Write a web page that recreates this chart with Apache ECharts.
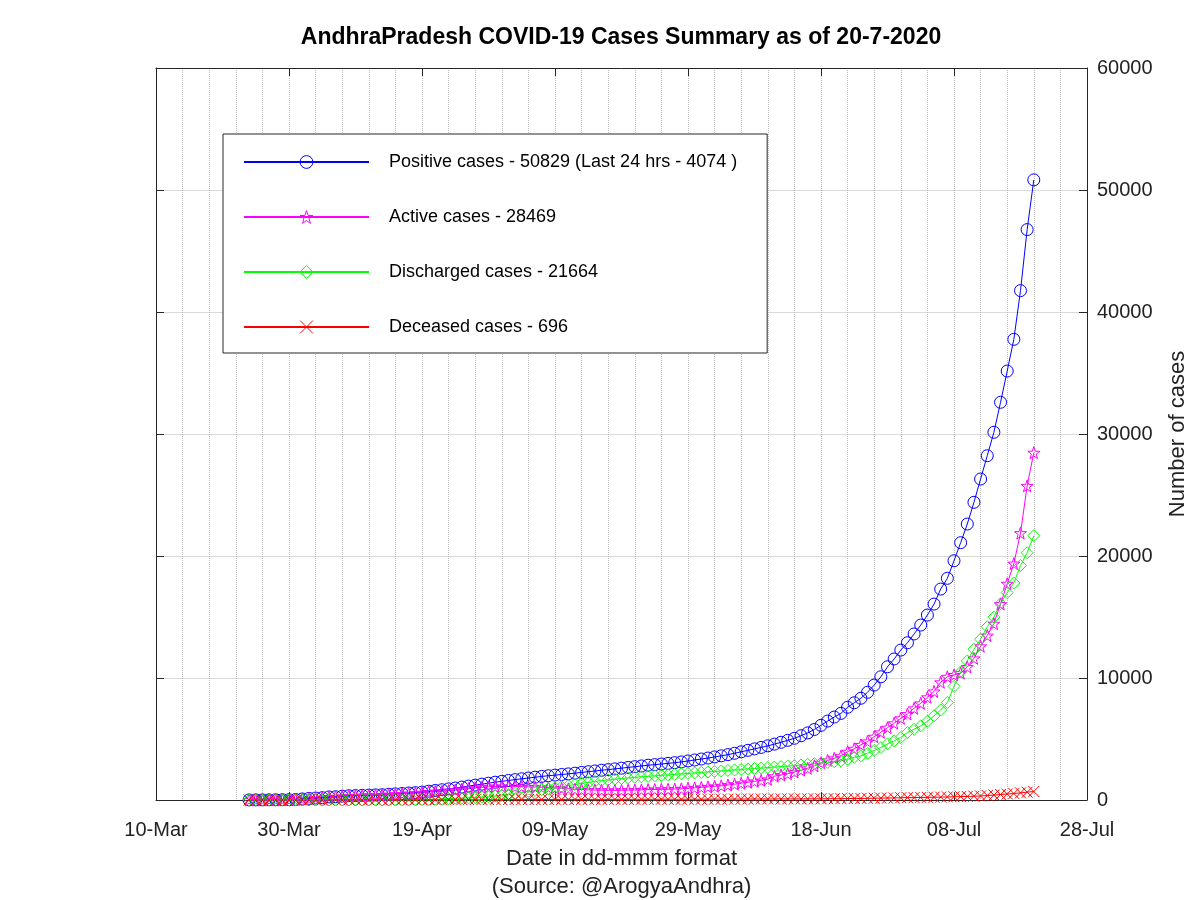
<!DOCTYPE html>
<html><head><meta charset="utf-8">
<script src="https://cdn.jsdelivr.net/npm/echarts@6/dist/echarts.min.js"></script>
<style>html,body{margin:0;padding:0;background:#fff}#c{width:1200px;height:900px}</style>
</head><body><div id="c"></div>
<script>
// ---- data (daily, 24-Mar-2020 .. 20-Jul-2020) ----
const axisStartDate = [2020, 2, 10];   // 10-Mar-2020 (axis origin)
const firstDataDate = [2020, 2, 24];   // 24-Mar-2020 (first observation)
const axisMaxDays = 140;               // 28-Jul
const tickStepDays = 20;

const positive = [
  8, 10, 11, 14, 19, 21, 23, 40,
  87, 132, 161, 190, 252, 266, 314, 348, 363, 381, 405, 420, 432, 473, 502, 534, 572, 603, 647, 722,
  780, 840, 910, 980, 1060, 1140, 1220, 1300, 1380, 1460,
  1530, 1600, 1670, 1740, 1800, 1870, 1930, 1990, 2040, 2090, 2140, 2200, 2260, 2320, 2380, 2440,
  2490, 2550, 2610, 2670, 2730, 2790, 2850, 2900, 2950, 3000, 3060, 3120, 3200, 3280, 3360,
  3440, 3530, 3620, 3720, 3830, 3950, 4070, 4190, 4310, 4440, 4580, 4730, 4890, 5060, 5270, 5500,
  5780, 6120, 6470, 6800, 7100, 7600, 7970, 8340, 8830, 9420, 10100, 10920, 11560, 12290,
  12890, 13610, 14340, 15160, 16060, 17290, 18170, 19610, 21090, 22620, 24400, 26310, 28220, 30140,
  32600, 35160, 37760, 41750, 46755, 50829
];
const active = [
  8, 10, 11, 13, 18, 20, 22, 39,
  86, 130, 159, 188, 248, 262, 304, 338, 348, 366, 389, 402, 414, 452, 475, 500, 536, 560, 595, 660,
  695, 726, 766, 812, 884, 938, 998, 1034, 1089, 1106,
  1097, 1097, 1094, 1094, 1074, 1062, 1039, 1019, 986, 955, 914, 884, 854, 832, 812, 801,
  790, 788, 797, 805, 814, 833, 852, 860, 870, 879, 898, 918, 958, 996, 1036,
  1076, 1122, 1169, 1227, 1295, 1373, 1450, 1530, 1608, 1696, 1950, 2050, 2150, 2300, 2450, 2600,
  2800, 3050, 3250, 3420, 3600, 3960, 4200, 4520, 4800, 5190, 5550, 5930, 6290, 6700,
  7050, 7516, 7926, 8418, 8900, 9650, 10100, 10250, 10400, 10900, 11610, 12600, 13480, 14450,
  16066, 17730, 19380, 21880, 25750, 28469
];
const discharged = [
  0, 0, 0, 1, 1, 1, 1, 1,
  1, 1, 1, 1, 1, 1, 6, 6, 9, 9, 10, 11, 11, 12, 16, 20, 22, 29, 37, 42,
  65, 92, 120, 141, 145, 171, 191, 235, 258, 321,
  400, 470, 540, 610, 690, 770, 850, 930, 1010, 1090, 1180, 1270, 1360, 1440, 1520, 1590,
  1650, 1710, 1760, 1810, 1860, 1900, 1940, 1980, 2020, 2060, 2100, 2140, 2180, 2220, 2260,
  2300, 2340, 2380, 2420, 2460, 2500, 2540, 2580, 2620, 2660, 2700, 2740, 2780, 2820, 2870, 2920,
  2980, 3030, 3080, 3140, 3200, 3340, 3500, 3620, 3830, 4060, 4300, 4600, 4850, 5120,
  5530, 5800, 6080, 6460, 6900, 7380, 7990, 9310, 10500, 11400, 12360, 13180, 14200, 14990,
  16090, 17000, 17790, 19220, 20270, 21664
];
const deceased = [
  0, 0, 0, 0, 0, 0, 0, 0,
  0, 1, 1, 1, 3, 3, 4, 4, 6, 6, 6, 7, 7, 9, 11, 14, 14, 14, 15, 20,
  20, 22, 24, 27, 31, 31, 31, 31, 33, 33,
  33, 33, 36, 36, 36, 38, 41, 41, 44, 45, 46, 46, 46, 48, 48, 49,
  50, 52, 53, 55, 56, 57, 58, 60, 60, 61, 62, 62, 62, 64, 64,
  64, 68, 71, 73, 75, 77, 80, 80, 82, 84, 86, 88, 88, 90, 92, 94,
  96, 99, 101, 106, 111, 119, 123, 128, 137, 146, 154, 160, 169, 187,
  193, 198, 206, 218, 227, 236, 252, 264, 277, 292, 309, 328, 365, 408,
  452, 492, 534, 586, 642, 696
];
const seriesNames = [
  'Positive cases - 50829 (Last 24 hrs - 4074 )',
  'Active cases - 28469',
  'Discharged cases - 21664',
  'Deceased cases - 696'
];
const seriesColors = ['#0000ff', '#ff00ff', '#00ff00', '#ff0000'];
const titleText = 'AndhraPradesh COVID-19 Cases Summary as of 20-7-2020';
const xAxisTitle = 'Date in dd-mmm format\n(Source: @ArogyaAndhra)';
const yAxisTitle = 'Number of cases';
const monthNames = ['Jan','Feb','Mar','Apr','May','Jun','Jul','Aug','Sep','Oct','Nov','Dec'];

// ---- helpers ----
const DAY = 86400000;
const t0 = Date.UTC(...axisStartDate);
const firstOffset = Math.round((Date.UTC(...firstDataDate) - t0) / DAY);
function fmtDay(d) {
  const dt = new Date(t0 + d * DAY);
  return String(dt.getUTCDate()).padStart(2, '0') + '-' + monthNames[dt.getUTCMonth()];
}
function pts(arr) { return arr.map((v, i) => [firstOffset + i, v]); }

const FONT = 'Liberation Sans, Arial, Helvetica, sans-serif';
const AX = '#262626';
const starPath = 'path://M50,2L61.8,36.2L97.6,36.5L69,58L79.4,92.3L50,71.7L20.6,92.3L31,58L2.4,36.5L38.2,36.2Z';
const crossPath = 'path://M0,0L10,10M10,0L0,10';
const symbols = [['circle', 12], [starPath, 12], ['diamond', 12], [crossPath, 11]];
const dataArrays = [positive, active, discharged, deceased];

const chart = echarts.init(document.getElementById('c'), null, { renderer: 'canvas' });
chart.setOption({
  animation: false,
  backgroundColor: '#fff',
  textStyle: { fontFamily: FONT },
  title: {
    text: titleText, left: 616, top: 21, textAlign: 'center',
    textStyle: { fontFamily: FONT, fontSize: 23, fontWeight: 'bold', color: '#000' }
  },
  grid: { left: 156, right: 113, top: 68, bottom: 100, containLabel: false, outerBoundsMode: 'none' },
  legend: {
    orient: 'vertical', left: 223, top: 134,
    padding: [18, 30, 16, 20], itemGap: 35, itemWidth: 125, itemHeight: 16,
    backgroundColor: '#fff', borderColor: AX, borderWidth: 1,
    textStyle: { fontFamily: FONT, fontSize: 18, color: '#000', lineHeight: 20, padding: [0, 0, 0, 15] },
    data: seriesNames.map((n, i) => ({
      name: n,
      itemStyle: { color: 'rgba(0,0,0,0)', borderColor: seriesColors[i], borderWidth: 1 }
    }))
  },
  xAxis: [{
    type: 'value', min: 0, max: axisMaxDays, interval: tickStepDays, position: 'bottom',
    axisLine: { show: true, onZero: false, lineStyle: { color: AX, width: 1 } },
    axisTick: { show: true, inside: true, length: 8, lineStyle: { color: AX } },
    axisLabel: { formatter: fmtDay, fontSize: 20, color: '#222', margin: 20, fontFamily: FONT },
    splitLine: { show: true, lineStyle: { color: '#bdbdbd', type: 'dotted', width: 1 } },
    minorTick: { show: false, splitNumber: 5 },
    minorSplitLine: { show: true, lineStyle: { color: '#bdbdbd', type: 'dotted', width: 1 } },
    name: xAxisTitle, nameLocation: 'middle', nameGap: 44,
    nameTextStyle: { fontSize: 22, color: '#222', lineHeight: 28, fontFamily: FONT }
  }, {
    type: 'value', min: 0, max: axisMaxDays, interval: tickStepDays, position: 'top',
    axisLine: { show: true, onZero: false, lineStyle: { color: AX, width: 1 } },
    axisTick: { show: true, inside: true, length: 8, lineStyle: { color: AX } },
    axisLabel: { show: false }, splitLine: { show: false }
  }],
  yAxis: [{
    type: 'value', min: 0, max: 60000, interval: 10000, position: 'right',
    axisLine: { show: true, onZero: false, lineStyle: { color: AX, width: 1 } },
    axisTick: { show: true, inside: true, length: 8, lineStyle: { color: AX } },
    axisLabel: { fontSize: 20, color: '#222', margin: 10, fontFamily: FONT, formatter: v => String(v) },
    splitLine: { show: true, lineStyle: { color: '#d9d9d9', type: 'solid', width: 1 } },
    name: yAxisTitle, nameLocation: 'middle', nameGap: 80, nameRotate: 90,
    nameTextStyle: { fontSize: 22, color: '#222', fontFamily: FONT }
  }, {
    type: 'value', min: 0, max: 60000, interval: 10000, position: 'left',
    axisLine: { show: true, onZero: false, lineStyle: { color: AX, width: 1 } },
    axisTick: { show: true, inside: true, length: 8, lineStyle: { color: AX } },
    axisLabel: { show: false }, splitLine: { show: false }
  }],
  series: seriesNames.map((name, i) => ({
    name, type: 'line', data: pts(dataArrays[i]), xAxisIndex: 0, yAxisIndex: 0,
    symbol: symbols[i][0], symbolSize: symbols[i][1], showAllSymbol: true,
    lineStyle: { color: seriesColors[i], width: 1 },
    itemStyle: { color: 'rgba(0,0,0,0)', borderColor: seriesColors[i], borderWidth: 1 },
    emphasis: { disabled: true }
  }))
});
</script>
</body></html>
